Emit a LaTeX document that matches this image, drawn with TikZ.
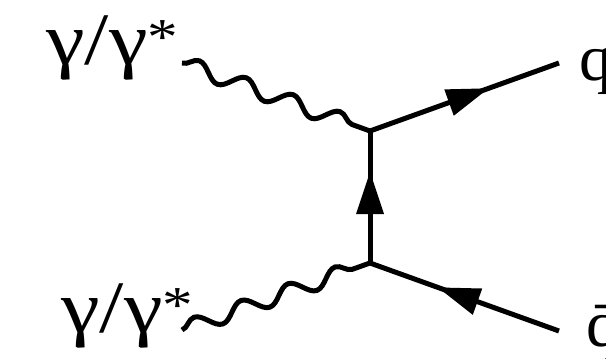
\documentclass[tikz,border=0pt]{standalone}
\usepackage{fontspec}
\setmainfont{Liberation Serif}
\usetikzlibrary{decorations.pathmorphing,decorations.markings}
\begin{document}
\begin{tikzpicture}[x=1pt,y=-1pt,
  photon/.style={line width=5pt, decorate,
    decoration={snake, segment length=49.9pt, amplitude=8pt}},
  fermion/.style={line width=5pt},
  arrowat/.style={postaction={decorate}, decoration={markings,
    mark=at position #1 with {\fill (0pt,0pt) -- (-42pt,14pt) -- (-42pt,-14pt) -- cycle;}}},
  biglabel/.style={inner sep=0pt, anchor=base west, font=\rmfamily\fontsize{74}{74}\selectfont},
  qlabel/.style={inner sep=0pt, anchor=base west, font=\rmfamily\fontsize{66}{66}\selectfont}]
\useasboundingbox (0,0) rectangle (606,359);
\coordinate (pa) at (182,63);
\coordinate (pb) at (182,330);
\coordinate (v1) at (370,131);
\coordinate (v2) at (370,263);
\coordinate (qe) at (559,63);
\coordinate (qbe) at (559,331);
\draw[photon] (pa) -- (v1);
\draw[photon] (pb) -- (v2);
\draw[fermion, arrowat=126pt] (v1) -- (qe);
\draw[fermion, arrowat=91pt] (v2) -- (v1);
\draw[fermion, arrowat=128.6pt] (qbe) -- (v2);
\node[biglabel] (gt) at (46,64) {\scalebox{1.18}[1]{γ/γ\textsuperscript{*}}};
\node[biglabel] (gb) at (61,332) {\scalebox{1.18}[1]{γ/γ\textsuperscript{*}}};
\node[qlabel] (q) at (579,80) {q};
\node[qlabel] (qb) at (586,346) {\=q};
\end{tikzpicture}
\end{document}
